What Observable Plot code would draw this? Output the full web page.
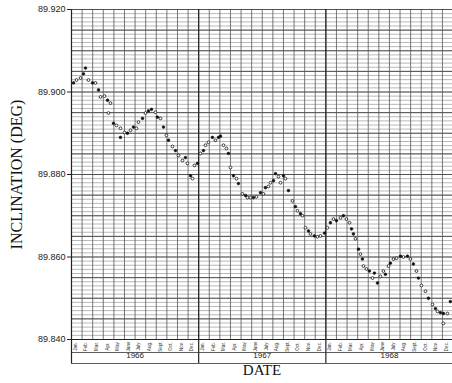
<!DOCTYPE html>
<html><head><meta charset="utf-8">
<script src="https://cdn.jsdelivr.net/npm/d3@7"></script>
<script src="https://cdn.jsdelivr.net/npm/@observablehq/plot@0.6"></script>
<style>body{margin:0;background:#fff} svg{display:block}</style>
</head><body><div id="chart"></div>
<script>
// months since 1 Jan 1966
const monthOffset = [0.19,0.47,0.85,1.13,1.32,1.6,1.98,2.26,2.55,2.74,3.11,3.4,3.49,3.68,3.96,4.25,4.62,4.62,5.0,5.28,5.57,5.85,6.13,6.32,6.7,6.98,7.26,7.55,7.92,8.11,8.4,8.68,8.96,9.15,9.53,9.81,10.09,10.47,10.75,10.94,11.23,11.42,11.6,11.89,12.17,12.45,12.64,12.92,13.3,13.58,13.87,14.06,14.34,14.62,14.81,15.0,15.28,15.57,15.75,16.13,16.42,16.6,16.89,17.17,17.45,17.83,18.11,18.3,18.58,18.77,19.06,19.25,19.53,19.72,20.0,20.19,20.47,20.85,21.13,21.32,21.6,21.79,22.08,22.36,22.55,22.92,23.21,23.49,23.87,24.15,24.43,24.72,25.0,25.38,25.66,25.94,26.23,26.42,26.6,26.79,27.08,27.26,27.45,27.55,27.83,28.11,28.4,28.58,28.87,29.15,29.43,29.62,29.91,30.09,30.38,30.66,31.04,31.32,31.7,31.98,32.26,32.55,32.74,33.02,33.4,33.68,34.06,34.34,34.53,34.81,35.09,35.09,35.47,35.75];
const inclination = [89.9022,89.9029,89.9034,89.9044,89.9058,89.9029,89.9022,89.9022,89.9005,89.8988,89.8990,89.8980,89.8949,89.8973,89.8924,89.8919,89.8912,89.8890,89.8902,89.8900,89.8907,89.8915,89.8912,89.8927,89.8936,89.8949,89.8954,89.8958,89.8951,89.8939,89.8936,89.8915,89.8895,89.8883,89.8868,89.8858,89.8846,89.8834,89.8841,89.8827,89.8797,89.8790,89.8822,89.8827,89.8851,89.8858,89.8871,89.8878,89.8890,89.8883,89.8890,89.8893,89.8871,89.8863,89.8851,89.8817,89.8797,89.8790,89.8778,89.8753,89.8749,89.8744,89.8744,89.8744,89.8746,89.8756,89.8753,89.8768,89.8771,89.8780,89.8785,89.8802,89.8795,89.8780,89.8797,89.8790,89.8761,89.8736,89.8722,89.8712,89.8705,89.8700,89.8671,89.8663,89.8656,89.8651,89.8649,89.8651,89.8658,89.8671,89.8683,89.8692,89.8688,89.8695,89.8700,89.8692,89.8683,89.8668,89.8656,89.8644,89.8619,89.8607,89.8595,89.8578,89.8571,89.8566,89.8549,89.8561,89.8537,89.8553,89.8566,89.8558,89.8578,89.8585,89.8595,89.8597,89.8602,89.8600,89.8602,89.8595,89.8583,89.8566,89.8549,89.8531,89.8517,89.8500,89.8485,89.8475,89.8468,89.8465,89.8463,89.8439,89.8463,89.8492];
// "o" open circle, "f" filled dot
const symbolKind = ["f","o","o","f","f","o","f","o","f","o","o","f","o","o","f","o","o","f","o","f","o","f","o","o","f","o","f","f","o","f","o","f","o","f","o","f","o","o","f","o","f","o","o","f","o","f","o","o","f","o","f","f","o","o","f","o","f","o","f","o","f","o","o","f","o","f","o","f","o","o","f","f","o","o","f","o","f","o","f","o","f","o","o","f","o","f","o","o","f","o","f","o","f","o","f","o","o","f","f","o","f","o","f","o","o","f","o","f","f","o","o","f","o","f","o","o","f","o","f","o","f","o","f","o","o","f","o","f","o","f","f","o","o","f"];
const monthLabels = ["Jan.","Feb.","Mar.","Apr.","May","June","July","Aug.","Sept.","Oct.","Nov.","Dec."];
const years = ["1966","1967","1968"];
const yTicks = [89.840, 89.860, 89.880, 89.900, 89.920];

const points = monthOffset.map((m, i) => ({m, v: inclination[i], k: symbolKind[i]}));
const fineY = d3.range(0, 81).map(i => 89.840 + i * 0.001);
const boldY = d3.range(0, 17).map(i => 89.840 + i * 0.005);
const monthLines = d3.range(0, 37);
const yearStarts = years.map((y, i) => i * 12);
const monthCells = years.flatMap((y, yi) => monthLabels.map((lab, mi) => ({x: yi * 12 + mi + 0.5, lab})));

const plot = Plot.plot({
  width: 452,
  height: 383,
  marginLeft: 71,
  marginRight: 0,
  marginTop: 9,
  marginBottom: 44,
  x: {domain: [0, 35.95], axis: null},
  y: {domain: [89.840, 89.920], axis: null},
  style: {background: "#fff", fontFamily: "Arial, 'Liberation Sans', sans-serif"},
  marks: [
    Plot.ruleY(fineY, {stroke: "#8a8a8a", strokeWidth: 0.6}),
    Plot.ruleY(boldY, {stroke: "#444", strokeWidth: 0.9}),
    Plot.ruleX(monthLines, {stroke: "#555", strokeWidth: 0.8}),
    Plot.ruleX(yearStarts, {stroke: "#222", strokeWidth: 1.2}),
    Plot.ruleX(yearStarts, {y1: 89.840, y2: 89.840, insetBottom: -24, stroke: "#222", strokeWidth: 1.2}),
    Plot.ruleY([89.840], {stroke: "#222", strokeWidth: 1}),
    Plot.ruleY([89.840], {dy: 13, stroke: "#333", strokeWidth: 0.8}),
    Plot.ruleY([89.840], {dy: 24, stroke: "#333", strokeWidth: 0.8}),
    Plot.axisY(yTicks, {tickFormat: d3.format(".3f"), tickSize: 4, tickPadding: 2, fontSize: 9, fill: "#222", stroke: "#222", label: null}),
    Plot.dot(points.filter(d => d.k === "o"), {x: "m", y: "v", r: 1.4, fill: "white", stroke: "#111", strokeWidth: 0.8}),
    Plot.dot(points.filter(d => d.k === "f"), {x: "m", y: "v", r: 1.4, fill: "#111", stroke: "#111", strokeWidth: 0.5}),
    Plot.text(monthCells, {x: "x", text: "lab", frameAnchor: "bottom", dy: 7, rotate: -90, fontSize: 4.5, fill: "#333"}),
    Plot.text(years, {x: (d, i) => i * 12 + 6, text: d => d, frameAnchor: "bottom", dy: 18.5, fontSize: 8, fill: "#222"}),
    Plot.text(["DATE"], {frameAnchor: "bottom", dy: 35, fontSize: 15, fontFamily: "'Liberation Serif', 'Times New Roman', serif", fill: "#111"}),
    Plot.text(["INCLINATION (DEG)"], {frameAnchor: "left", textAnchor: "middle", dx: -55, rotate: -90, fontSize: 16, fontFamily: "'Liberation Serif', 'Times New Roman', serif", fill: "#111"})
  ]
});
document.getElementById("chart").appendChild(plot);
</script>
</body></html>
